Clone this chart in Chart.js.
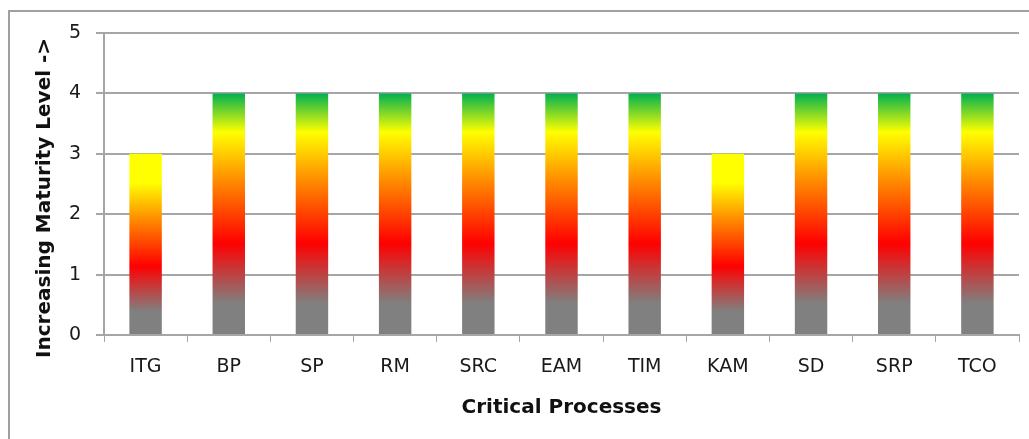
<!DOCTYPE html>
<html lang="en">
<head>
    <meta charset="UTF-8">
    <title>Maturity Level</title>
    <script src="https://cdn.jsdelivr.net/npm/chart.js"></script>
    <style>
        * { margin: 0; padding: 0; box-sizing: border-box; }
        body { background: white; width: 1029px; height: 439px; overflow: hidden; }
    </style>
</head>
<body>
    <canvas id="chart" width="1029" height="439"></canvas>
    <script>
        const processes = ["ITG", "BP", "SP", "RM", "SRC", "EAM", "TIM", "KAM", "SD", "SRP", "TCO"];
        const maturity = [3, 4, 4, 4, 4, 4, 4, 3, 4, 4, 4];
        const yTicks = [0, 1, 2, 3, 4, 5];

        const FONT = "'DejaVu Sans', sans-serif";
        const GRID = "#a6a6a6";

        // gradient per bar: gray at the base, red, orange, yellow, green on top (if level 4)
        function barFill(ctx) {
            const chart = ctx.chart;
            const y = chart.scales.y;
            if (!y || ctx.type !== "data") return "#808080";
            const v = ctx.raw;
            const top = y.getPixelForValue(v);
            const base = y.getPixelForValue(0);
            if (!isFinite(top) || !isFinite(base) || top === base) return "#808080";
            const g = chart.ctx.createLinearGradient(0, base, 0, top);
            g.addColorStop(0, "#808080");
            g.addColorStop(0.13, "#808080");
            g.addColorStop(0.38, "#ff0000");
            g.addColorStop(0.64, "#ff8c00");
            g.addColorStop(0.84, "#ffff00");
            g.addColorStop(1, v >= 4 ? "#00b050" : "#ffff00");
            return g;
        }

        const frame = {
            id: "frame",
            beforeDraw(chart) {
                const c = chart.ctx;
                c.save();
                c.strokeStyle = "#a0a0a0";
                c.lineWidth = 2;
                c.beginPath();
                c.moveTo(9, 439);
                c.lineTo(9, 11);
                c.lineTo(1029, 11);
                c.stroke();
                c.restore();
            }
        };

        new Chart(document.getElementById("chart"), {
            type: "bar",
            data: {
                labels: processes,
                datasets: [{
                    data: maturity,
                    backgroundColor: barFill,
                    borderWidth: 0,
                    barPercentage: 0.39,
                    categoryPercentage: 1
                }]
            },
            plugins: [frame],
            options: {
                responsive: false,
                animation: false,
                devicePixelRatio: 1,
                layout: { padding: { top: 33, right: 10, left: 0, bottom: 0 } },
                plugins: { legend: { display: false }, tooltip: { enabled: false } },
                scales: {
                    x: {
                        afterFit: s => { s.height = 104; },
                        grid: { drawOnChartArea: false, tickLength: 7, color: GRID, lineWidth: 1 },
                        border: { color: GRID, width: 2 },
                        ticks: { color: "#1a1a1a", font: { family: FONT, size: 19 }, padding: 14, maxRotation: 0 },
                        title: {
                            display: true, text: "Critical Processes", color: "#111",
                            font: { family: FONT, size: 20, weight: "bold" }, padding: { top: 0, bottom: 19 }
                        }
                    },
                    y: {
                        min: 0, max: 5,
                        afterFit: s => { s.width = 104; },
                        afterBuildTicks: s => { s.ticks = yTicks.map(v => ({ value: v })); },
                        grid: { color: GRID, lineWidth: 2, tickLength: 8 },
                        border: { color: GRID, width: 2 },
                        ticks: { color: "#1a1a1a", font: { family: FONT, size: 19 }, padding: 15 },
                        title: {
                            display: true, text: "Increasing Maturity Level ->    ", color: "#111",
                            font: { family: FONT, size: 20, weight: "bold" }, padding: { top: 33, bottom: 0 }
                        }
                    }
                }
            }
        });
    </script>
</body>
</html>
